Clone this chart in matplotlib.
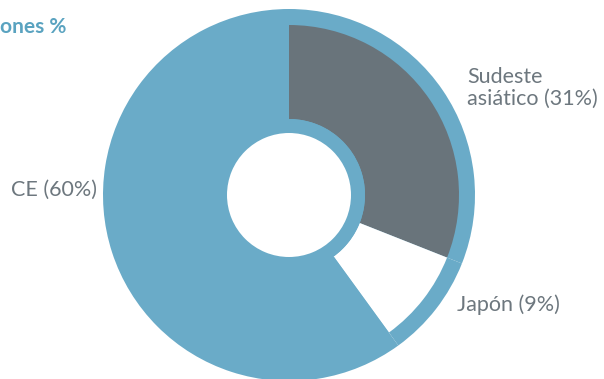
import matplotlib.pyplot as plt

# datos
regiones = ["Sudeste\nasiático (31%)", "Japón (9%)", "CE (60%)"]
valores = [31, 9, 60]

azul = "#6aabc8"
gris = "#69747b"
texto = "#6d777e"

fig = plt.figure(figsize=(6.04, 3.79), dpi=100)
ax = fig.add_axes([0, 0, 1, 1])

centro = (289, 184)

# fondo azul completo
ax.pie(valores, colors=[azul] * 3, radius=186, center=centro,
       startangle=90, counterclock=False, frame=True,
       wedgeprops=dict(linewidth=0))
# sectores interiores
ax.pie(valores, colors=[gris, "white", azul], radius=170, center=centro,
       startangle=90, counterclock=False, frame=True,
       wedgeprops=dict(width=94, linewidth=0))
# anillo azul y agujero
ax.pie([1], colors=[azul], radius=76, center=centro, frame=True,
       wedgeprops=dict(linewidth=0))
ax.pie([1], colors=["white"], radius=62, center=centro, frame=True,
       wedgeprops=dict(linewidth=0))

ax.set_xlim(0, 604)
ax.set_ylim(0, 379)
ax.set_aspect("equal")
ax.axis("off")

fuente = "Lato"
ax.text(467, 379 - 88, regiones[0], fontsize=15.5, color=texto,
        family=fuente, va="center", ha="left", linespacing=1.15)
ax.text(457, 379 - 305, regiones[1], fontsize=15.5, color=texto,
        family=fuente, va="center", ha="left")
ax.text(97, 379 - 190, regiones[2], fontsize=15.5, color=texto,
        family=fuente, va="center", ha="right")
ax.text(0, 379 - 27, "ones %", fontsize=15, color="#5aa3c0",
        family=fuente, fontweight="bold", va="center", ha="left")

fig.savefig("out.png", dpi=100)
